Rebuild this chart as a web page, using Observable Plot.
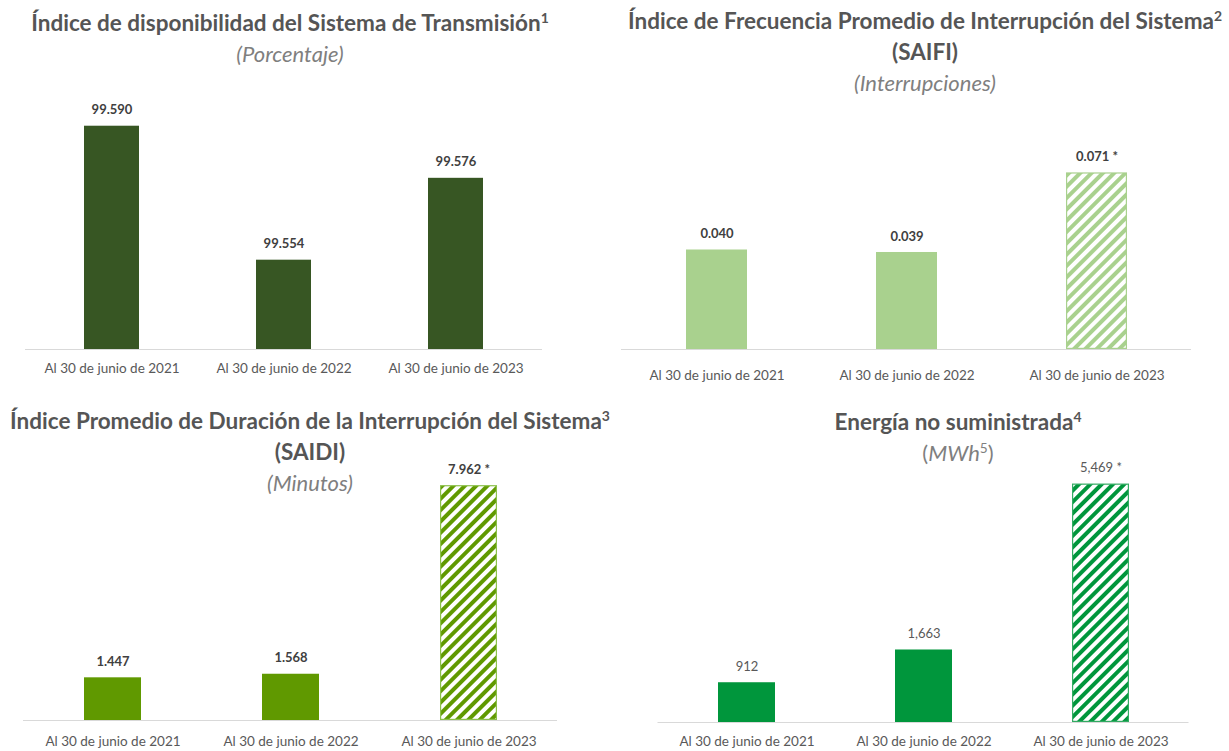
<!DOCTYPE html>
<html><head><meta charset="utf-8">
<script src="https://cdn.jsdelivr.net/npm/d3@7"></script>
<script src="https://cdn.jsdelivr.net/npm/@observablehq/plot@0.6"></script>
<style>
body{margin:0;background:#fff;font-family:Lato,"Open Sans",sans-serif;}
#root{position:relative;width:1229px;height:751px;overflow:hidden;background:#fff;}
.title{position:absolute;text-align:center;color:#555;font-weight:bold;font-size:22.5px;line-height:31px;white-space:nowrap;}
.title sup{font-size:0.62em;line-height:0;vertical-align:super;}
.sub{font-style:italic;font-weight:normal;color:#7f7f7f;font-size:22px;}
.sub2{font-weight:normal;color:#7f7f7f;font-size:22px;}
#root svg{position:absolute;}
</style></head><body><div id="root"></div>
<script>
const categories = ["Al 30 de junio de 2021", "Al 30 de junio de 2022", "Al 30 de junio de 2023"];
const disponibilidad = [99.590, 99.554, 99.576];
const saifi = [0.040, 0.039, 0.071];
const saidi = [1.447, 1.568, 7.962];
const energia = [912, 1663, 5469];
const dispLabels = ["99.590", "99.554", "99.576"];
const saifiLabels = ["0.040", "0.039", "0.071 *"];
const saidiLabels = ["1.447", "1.568", "7.962 *"];
const energiaLabels = ["912", "1,663", "5,469 *"];
const sinHachura = [false, false, false];
const preliminar = [false, false, true];

const root = document.getElementById("root");

function panel(cfg) {
  const data = categories.map((c, i) => ({cat: c, v: cfg.values[i], label: cfg.labels[i], hatch: cfg.hatch[i]}));
  const base = cfg.domain[0];
  const svg = Plot.plot({
    width: cfg.w, height: cfg.h,
    marginLeft: cfg.ml, marginRight: cfg.mr, marginTop: cfg.mt, marginBottom: cfg.mb,
    style: {background: "transparent", fontFamily: "Lato, sans-serif", overflow: "visible"},
    x: {domain: categories, paddingInner: 0.68, paddingOuter: 0.34, label: null, axis: null},
    y: {domain: cfg.domain, axis: null},
    marks: [
      Plot.ruleY([base], {stroke: "#d9d9d9", strokeWidth: 1.2}),
      Plot.barY(data.filter(d => !d.hatch), {x: "cat", y1: base, y2: "v", fill: cfg.color}),
      Plot.barY(data.filter(d => d.hatch), {x: "cat", y1: base, y2: "v", fill: `url(#${cfg.id})`, stroke: cfg.border, strokeWidth: 1.2, inset: 0.6}),
      Plot.text(data, {x: "cat", y: "v", text: "label", dy: -16, fontSize: 13, fontWeight: cfg.bold ? "bold" : "normal", fill: cfg.bold ? "#404040" : "#595959"}),
      Plot.axisX({tickSize: 0, tickPadding: cfg.tp, fontSize: 13.5, color: "#595959", label: null})
    ]
  });
  const defs = d3.select(svg).insert("defs", ":first-child");
  const pat = defs.append("pattern").attr("id", cfg.id).attr("patternUnits", "userSpaceOnUse")
    .attr("width", 8).attr("height", 8).attr("patternTransform", "rotate(45)");
  pat.append("rect").attr("width", 8).attr("height", 8).attr("fill", "#fff");
  pat.append("rect").attr("width", 4).attr("height", 8).attr("fill", cfg.color);
  svg.style.left = cfg.left + "px";
  svg.style.top = cfg.top + "px";
  root.appendChild(svg);
  const t = document.createElement("div");
  t.className = "title";
  t.style.left = cfg.tl + "px";
  t.style.width = cfg.tw + "px";
  t.style.top = cfg.tt + "px";
  t.innerHTML = cfg.title;
  root.appendChild(t);
}

panel({id: "h1", values: disponibilidad, labels: dispLabels, hatch: sinHachura, domain: [99.53, 99.60], color: "#375623", border: "#375623", bold: true,
  left: 0, top: 60, w: 600, h: 319, ml: 25, mr: 58, mt: 28.5, mb: 30, tp: 14,
  tl: 0, tw: 580, tt: 6.5,
  title: 'Índice de disponibilidad del Sistema de Transmisión<sup>1</sup><br><span class="sub">(Porcentaje)</span>'});

panel({id: "h2", values: saifi, labels: saifiLabels, hatch: preliminar, domain: [0, 0.08], color: "#a9d18e", border: "#a9d18e", bold: true,
  left: 610, top: 120, w: 610, h: 259, ml: 11, mr: 29, mt: 30, mb: 30, tp: 21,
  tl: 625, tw: 600, tt: 4.5,
  title: 'Índice de Frecuencia Promedio de Interrupción del Sistema<sup>2</sup><br>(SAIFI)<br><span class="sub">(Interrupciones)</span>'});

panel({id: "h3", values: saidi, labels: saidiLabels, hatch: preliminar, domain: [0, 8], color: "#609900", border: "#8cc04a", bold: true,
  left: 0, top: 450, w: 600, h: 300, ml: 23, mr: 43, mt: 34, mb: 30, tp: 16,
  tl: 0, tw: 620, tt: 404.5,
  title: 'Índice Promedio de Duración de la Interrupción del Sistema<sup>3</sup><br>(SAIDI)<br><span class="sub">(Minutos)</span>'});

panel({id: "h4", values: energia, labels: energiaLabels, hatch: preliminar, domain: [0, 6000], color: "#00963c", border: "#33ab63", bold: false,
  left: 610, top: 430, w: 610, h: 320, ml: 47.5, mr: 31.5, mt: 30.4, mb: 28, tp: 14,
  tl: 658, tw: 600, tt: 405.5,
  title: 'Energía no suministrada<sup>4</sup><br><span class="sub2">(<i>MWh</i><sup>5</sup>)</span>'});
</script></body></html>
